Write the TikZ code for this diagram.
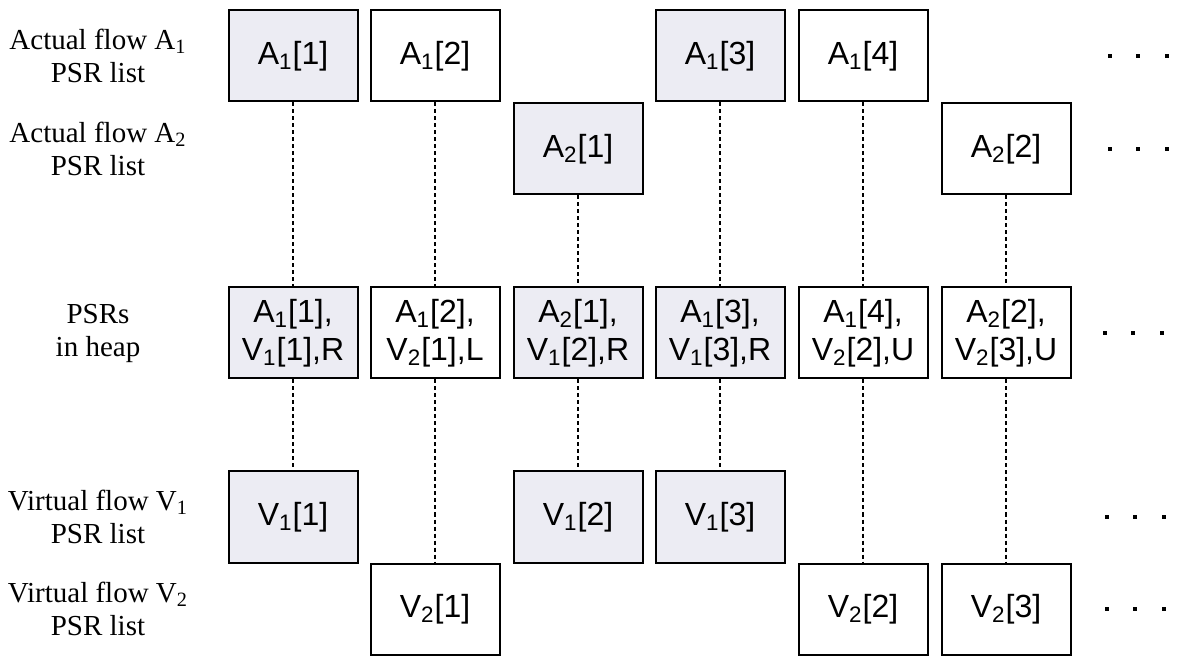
\documentclass[tikz,border=0pt]{standalone}
\usepackage{fontspec}
\setmainfont{Liberation Serif}
\newfontfamily\boxfont{Liberation Sans}
\definecolor{shade}{RGB}{236,236,243}
\newcommand\psr[3]{#1\textsubscript{#2}[#3]}
\begin{document}
\begin{tikzpicture}[x=0.5pt,y=-0.5pt,
  cell/.style={draw=black, line width=1pt, minimum width=64.5pt, minimum height=45.5pt,
    inner sep=0pt, align=center, font=\boxfont\fontsize{16}{19}\selectfont},
  hot/.style={cell, fill=shade},
  rowlabel/.style={align=center, font=\fontsize{14.5}{16.5}\selectfont},
  link/.style={dash pattern=on 2pt off 1.5pt, line width=0.7pt},
  dot/.style={fill=black, minimum size=2.2pt, inner sep=0pt}]
\useasboundingbox (0,0) rectangle (1181,656);

% row labels
\node[rowlabel] (la1) at (98,56) {Actual flow A\textsubscript{1}\\PSR list};
\node[rowlabel] (la2) at (98,149) {Actual flow A\textsubscript{2}\\PSR list};
\node[rowlabel] (lh)  at (98,333) {PSRs\\in heap};
\node[rowlabel] (lv1) at (98,517) {Virtual flow V\textsubscript{1}\\PSR list};
\node[rowlabel] (lv2) at (98,609) {Virtual flow V\textsubscript{2}\\PSR list};

% actual flow A1
\node[hot]  (a11) at (293,56) {\psr{A}{1}{1}};
\node[cell] (a12) at (435,56) {\psr{A}{1}{2}};
\node[hot]  (a13) at (720,56) {\psr{A}{1}{3}};
\node[cell] (a14) at (863,56) {\psr{A}{1}{4}};
% actual flow A2
\node[hot]  (a21) at (578,149) {\psr{A}{2}{1}};
\node[cell] (a22) at (1006,149) {\psr{A}{2}{2}};

% heap
\node[hot]  (h1) at (293,333)  {\psr{A}{1}{1},\\\psr{V}{1}{1},R};
\node[cell] (h2) at (435,333)  {\psr{A}{1}{2},\\\psr{V}{2}{1},L};
\node[hot]  (h3) at (578,333)  {\psr{A}{2}{1},\\\psr{V}{1}{2},R};
\node[hot]  (h4) at (720,333)  {\psr{A}{1}{3},\\\psr{V}{1}{3},R};
\node[cell] (h5) at (863,333)  {\psr{A}{1}{4},\\\psr{V}{2}{2},U};
\node[cell] (h6) at (1006,333) {\psr{A}{2}{2},\\\psr{V}{2}{3},U};

% virtual flow V1
\node[hot] (v11) at (293,517) {\psr{V}{1}{1}};
\node[hot] (v12) at (578,517) {\psr{V}{1}{2}};
\node[hot] (v13) at (720,517) {\psr{V}{1}{3}};
% virtual flow V2
\node[cell] (v21) at (435,609)  {\psr{V}{2}{1}};
\node[cell] (v22) at (863,609)  {\psr{V}{2}{2}};
\node[cell] (v23) at (1006,609) {\psr{V}{2}{3}};

% dashed links through the heap
\draw[link] (a11) -- (h1);  \draw[link] (h1) -- (v11);
\draw[link] (a12) -- (h2);  \draw[link] (h2) -- (v21);
\draw[link] (a21) -- (h3);  \draw[link] (h3) -- (v12);
\draw[link] (a13) -- (h4);  \draw[link] (h4) -- (v13);
\draw[link] (a14) -- (h5);  \draw[link] (h5) -- (v22);
\draw[link] (a22) -- (h6);  \draw[link] (h6) -- (v23);

% continuation dots
\foreach \r/\y/\s in {1/56/0, 2/149/0, 3/333/-5, 4/517/-3, 5/609/-3} {
  \foreach \k/\x in {1/1110, 2/1138, 3/1167} {
    \node[dot] (dot\r\k) at (\x+\s,\y) {};
  }
}
\end{tikzpicture}
\end{document}
